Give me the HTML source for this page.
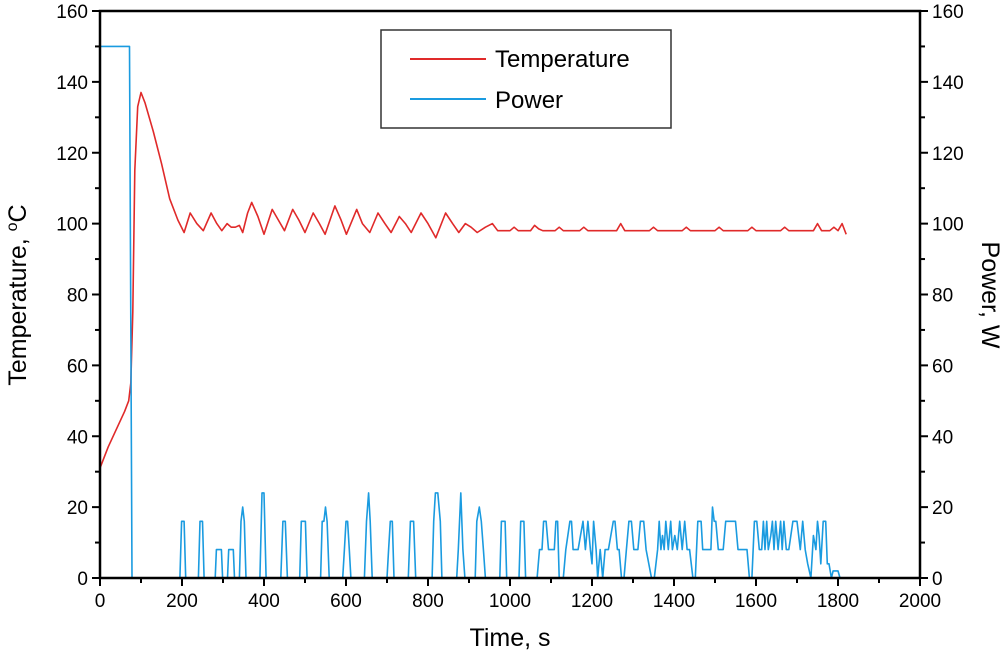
<!DOCTYPE html>
<html><head><meta charset="utf-8"><style>
body{margin:0;background:#fff;}
svg{display:block;font-family:"Liberation Sans",Arial,sans-serif;}
</style></head><body>
<svg id="chart" width="1000" height="657" viewBox="0 0 1000 657" xmlns="http://www.w3.org/2000/svg">
<g id="plot"></g>
<g>
<rect x="381" y="30" width="290" height="98" fill="#fff" stroke="#333" stroke-width="1.5"/>
<line x1="410" y1="59" x2="486" y2="59" stroke="#e02a2a" stroke-width="2"/>
<text x="495" y="67" font-size="24">Temperature</text>
<line x1="410" y1="99" x2="486" y2="99" stroke="#1a9be0" stroke-width="2"/>
<text x="495" y="108" font-size="24">Power</text>
</g>
</svg>
<script>
const xTicks=[0,200,400,600,800,1000,1200,1400,1600,1800,2000];
const yTicks=[0,20,40,60,80,100,120,140,160];
const tempTime=[0,20,40,60,70,75,80,85,92,100,110,130,150,170,190,205,220,236,252,271,285,297,310,320,330,340,348,360,370,385,400,420,435,450,470,485,500,520,535,549,573,588,601,626,640,658,678,695,710,730,745,759,783,800,819,843,860,875,891,905,920,940,957,970,980,
1000,1010,1020,1050,1060,1070,1080,1110,1120,1130,1170,1180,1190,1260,1270,1280,1340,1350,1360,1420,1430,1440,1500,1510,1520,1580,1590,1600,1660,1670,1680,1740,1750,1760,1780,1790,1800,1810,1820];
const tempVals=[31,37,42,47,50,55,75,115,133,137,134,126,117,107,101,97.5,103,100,98,103,100,98,100,99,99,99.5,97.5,103,106,102,97,104,101,98,104,101,97.5,103,100,97,105,101,97,104,100,97.5,103,100,97.5,102,100,97.5,103,100,96,103,100,97.5,100,99,97.5,99,100,98,98,
98,99,98,98,99.5,98.5,98,98,99,98,98,99,98,98,100,98,98,99,98,98,99,98,98,99,98,98,99,98,98,99,98,98,100,98,98,99,98,100,97];
const powTime=[0,72,78,
195,199,205,209,
240,244,250,254,
281,284,296,299,
311,314,325,328,
340,344,348,352,356,
390,395,400,405,
441,446,452,457,
487,491,501,505,
538,542,546,550,554,559,
592,596,600,604,608,612,
645,650,655,659,664,
700,704,708,713,717,
752,757,765,770,
810,814,818,824,830,834,
870,874,880,885,890,
915,919,925,930,935,940,
975,979,988,992,
1022,1026,1034,1038,
1066,1072,1078,1082,1088,1094,1100,1108,1112,1116,1120,
1130,1136,1146,1150,1154,1160,1166,1172,1178,1184,1190,1196,1200,1204,1210,1214,1220,1226,
1232,1240,1252,1256,1262,1266,1272,
1278,1284,1290,1296,1302,1312,1318,1326,1332,1345,
1352,1360,1364,1368,1372,1376,1380,1386,1392,1396,1402,1408,1414,1420,1426,1432,1438,1446,
1452,1458,1466,1470,1476,1484,1490,1494,1498,1502,1508,
1520,1526,1550,1556,1566,1578,1584,
1590,1596,1602,1608,1614,1618,1622,1626,1630,1636,1640,1644,1648,1654,1660,1664,1668,1674,1680,1690,1700,1708,1714,1720,1726,
1734,1740,1746,1750,1754,1758,1764,1770,1774,1778,1784,1788,1800,1805,1820];
const powVals=[150,150,0,
0,16,16,0,
0,16,16,0,
0,8,8,0,
0,8,8,0,
0,16,20,16,0,
0,24,24,0,
0,16,16,0,
0,16,16,0,
0,16,16,20,16,0,
0,8,16,16,8,0,
0,16,24,16,0,
0,8,16,16,0,
0,16,16,0,
0,16,24,24,16,0,
0,8,24,8,0,
0,16,20,16,8,0,
0,16,16,0,
0,16,16,0,
0,8,8,16,16,8,8,8,16,16,0,
0,8,16,16,8,8,8,12,16,8,16,8,4,16,8,0,8,0,
8,8,16,16,8,8,0,
0,8,16,16,8,8,16,16,8,0,
0,8,16,8,12,8,16,8,16,8,12,8,16,8,16,8,8,0,
0,16,16,8,8,8,8,20,16,16,8,
8,16,16,8,8,8,0,
0,16,16,8,8,16,8,16,8,12,16,8,16,8,16,8,16,8,8,16,16,8,16,8,4,
0,12,8,16,12,4,16,16,4,4,0,2,2,0,0];
const NS="http://www.w3.org/2000/svg";
const X0=100,X1=920,Y0=578,Y1=11;
function xs(t){return X0+(t/2000)*(X1-X0);}
function ys(v){return Y0-(v/160)*(Y0-Y1);}
const g=document.getElementById('plot');
function mk(tag,attrs){const e=document.createElementNS(NS,tag);for(const k in attrs)e.setAttribute(k,attrs[k]);g.appendChild(e);return e;}
const nt=Math.min(tempTime.length,tempVals.length);
let d='';for(let i=0;i<nt;i++)d+=(i?'L':'M')+xs(tempTime[i]).toFixed(1)+','+ys(tempVals[i]).toFixed(1);
let tl=mk('path',{d:d,fill:'none',stroke:'#e02a2a','stroke-width':1.6,'stroke-linejoin':'round'});


const n=Math.min(powTime.length,powVals.length);
d='';for(let i=0;i<n;i++)d+=(i?'L':'M')+xs(powTime[i]).toFixed(1)+','+ys(powVals[i]).toFixed(1);
let pl=mk('path',{d:d,fill:'none',stroke:'#1a9be0','stroke-width':1.6,'stroke-linejoin':'round'});


let fr=mk('rect',{x:X0,y:Y1,width:X1-X0,height:Y0-Y1,fill:'none',stroke:'#000','stroke-width':2.5});


xTicks.forEach((t,i)=>{
  const x=xs(t);
  mk('line',{x1:x,y1:Y0,x2:x,y2:Y0+8,stroke:'#000','stroke-width':2});
  if(i<xTicks.length-1){const xm=xs(t+100);mk('line',{x1:xm,y1:Y0,x2:xm,y2:Y0+5,stroke:'#000','stroke-width':2});}
  const tx=mk('text',{x:x,y:Y0+29,'font-size':19,'text-anchor':'middle'});
  tx.textContent=t;
  
  
});
yTicks.forEach((v,i)=>{
  const y=ys(v);
  mk('line',{x1:X0-8,y1:y,x2:X0,y2:y,stroke:'#000','stroke-width':2});
  mk('line',{x1:X1,y1:y,x2:X1+8,y2:y,stroke:'#000','stroke-width':2});
  if(i<yTicks.length-1){const ym=ys(v+10);mk('line',{x1:X0-5,y1:ym,x2:X0,y2:ym,stroke:'#000','stroke-width':2});mk('line',{x1:X1,y1:ym,x2:X1+5,y2:ym,stroke:'#000','stroke-width':2});}
  const a=mk('text',{x:X0-12,y:y+7,'font-size':19,'text-anchor':'end'});
  a.textContent=v;
  
  
  const b=mk('text',{x:X1+12,y:y+7,'font-size':19,'text-anchor':'start'});
  b.textContent=v;
  
  
});
const xt=mk('text',{x:(X0+X1)/2,y:646,'font-size':25,'text-anchor':'middle'});
xt.textContent='Time, s';


const yl=mk('text',{x:0,y:0,'font-size':25,'text-anchor':'middle',transform:'translate(26,295) rotate(-90)'});
yl.innerHTML='Temperature, <tspan dy="-9" font-size="16">o</tspan><tspan dy="9">C</tspan>';


const yr=mk('text',{x:0,y:0,'font-size':25,'text-anchor':'middle',transform:'translate(982,295) rotate(90)'});
yr.textContent='Power, W';


</script>
</body></html>
